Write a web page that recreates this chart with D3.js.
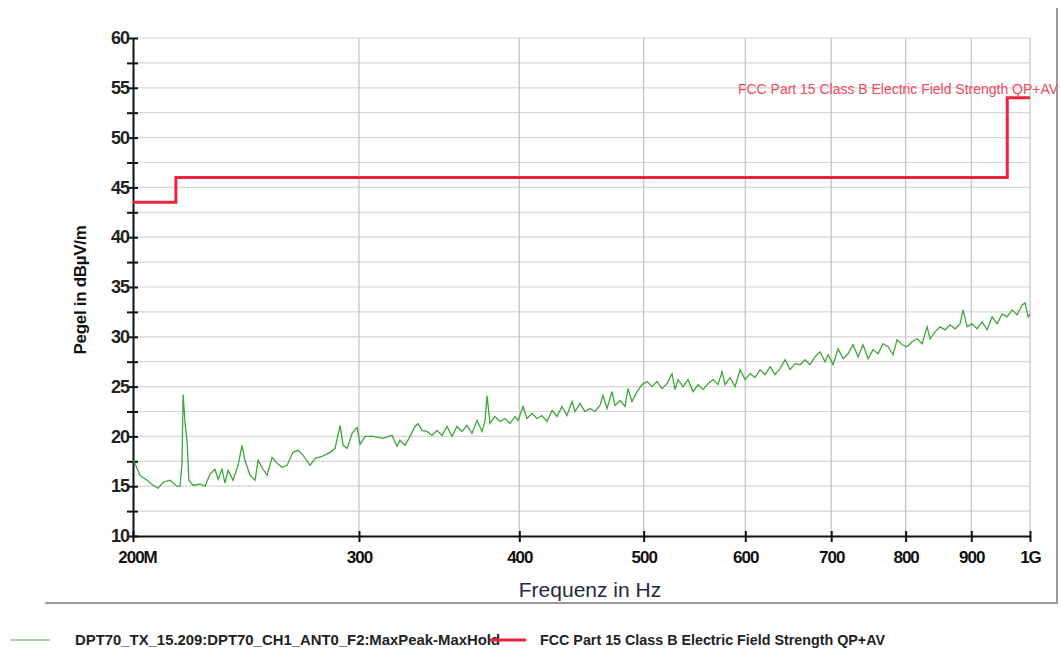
<!doctype html>
<html>
<head>
<meta charset="utf-8">
<title>Pegel in dBµV/m</title>
<style>
body { margin: 0; background: #fff; }
svg { display: block; font-family: "Liberation Sans", Arial, sans-serif; }
</style>
</head>
<body>
<svg width="1061" height="651" id="chart"></svg>
<script src="https://d3js.org/d3.v7.min.js"></script>
<script>
// MaxPeak trace, frequency in MHz and level in dBuV/m
var traceFreq = [200.0, 200.7, 202.5, 205.1, 207.3, 209.2, 211.1, 213.7, 216.4, 217.6,
  218.4, 218.8, 219.6, 220.4, 221.1, 222.7, 225.6, 227.6, 229.6, 231.7,
  233.0, 234.6, 235.9, 237.2, 239.3, 241.5, 243.2, 244.5, 246.7, 249.0,
  250.3, 252.6, 254.4, 256.7, 259.0, 261.3, 263.7, 266.5, 268.9, 271.4,
  274.8, 277.3, 280.8, 284.9, 287.4, 290.0, 291.6, 293.7, 296.3, 299.0,
  300.6, 303.3, 307.6, 313.2, 318.3, 321.2, 322.9, 325.8, 328.8, 331.7,
  333.5, 335.9, 338.9, 342.0, 345.1, 348.2, 351.3, 354.5, 357.7, 360.9,
  364.2, 367.4, 370.8, 374.1, 376.1, 377.5, 379.5, 382.9, 386.4, 389.9,
  393.4, 396.9, 399.1, 402.7, 405.5, 409.2, 412.9, 416.6, 420.4, 424.2,
  428.0, 431.8, 435.7, 439.7, 442.0, 446.0, 450.0, 454.1, 458.2, 462.3,
  464.8, 468.2, 472.4, 474.9, 479.2, 483.5, 486.1, 489.6, 494.1, 498.5,
  503.0, 507.5, 512.1, 516.7, 521.4, 526.1, 528.9, 531.8, 536.6, 541.4,
  546.3, 551.2, 556.2, 561.2, 566.3, 571.4, 575.5, 578.6, 583.8, 589.1,
  594.4, 599.7, 605.2, 610.6, 616.1, 621.7, 627.3, 632.9, 638.6, 644.4,
  650.2, 656.0, 662.0, 667.9, 673.9, 680.0, 686.1, 692.3, 696.1, 702.3,
  708.7, 715.1, 721.5, 728.0, 734.6, 741.2, 747.9, 754.6, 761.4, 768.3,
  775.2, 782.2, 787.8, 794.9, 802.1, 809.3, 816.6, 824.0, 831.4, 835.9,
  843.4, 851.0, 858.7, 866.4, 874.2, 882.1, 886.9, 893.3, 901.3, 909.4,
  917.6, 925.9, 934.2, 942.7, 951.2, 959.7, 968.4, 977.1, 985.9, 991.3,
  996.6, 1000.0];
var traceLevel = [17.6, 17.3, 16.1, 15.6, 15.1, 14.8, 15.4, 15.6, 15.0, 15.0,
  17.3, 24.2, 21.3, 19.4, 15.6, 15.1, 15.2, 15.0, 16.2, 16.7,
  15.7, 16.7, 15.3, 16.6, 15.6, 17.1, 19.1, 17.6, 16.1, 15.6,
  17.6, 16.7, 16.1, 17.9, 17.3, 16.9, 17.1, 18.4, 18.6, 18.1,
  17.1, 17.8, 18.0, 18.4, 18.8, 21.1, 19.1, 18.8, 20.3, 20.9,
  19.2, 20.0, 20.0, 19.8, 20.1, 19.0, 19.6, 19.1, 20.0, 21.0,
  21.3, 20.6, 20.5, 20.1, 20.6, 20.1, 21.0, 20.0, 21.0, 20.5,
  21.1, 20.3, 21.6, 20.5, 21.5, 24.1, 21.3, 22.0, 21.5, 21.8,
  21.3, 22.0, 21.6, 23.0, 21.8, 22.3, 21.8, 22.1, 21.5, 22.6,
  22.0, 23.0, 22.1, 23.5, 22.5, 23.3, 22.5, 22.8, 22.5, 23.1,
  24.1, 22.8, 24.5, 23.1, 23.6, 23.0, 24.8, 23.5, 24.5, 25.2,
  25.5, 25.0, 25.5, 24.8, 25.3, 26.3, 24.7, 25.7, 25.0, 25.7,
  24.5, 25.2, 24.7, 25.3, 25.7, 25.2, 26.5, 25.2, 25.9, 25.0,
  26.7, 25.7, 26.3, 25.9, 26.7, 26.2, 27.0, 26.2, 26.8, 27.7,
  26.7, 27.3, 27.2, 27.7, 27.2, 28.0, 28.5, 27.5, 28.2, 27.2,
  28.8, 27.8, 28.3, 29.2, 28.0, 29.2, 27.8, 28.7, 28.3, 29.3,
  29.0, 28.2, 29.7, 29.2, 29.0, 29.5, 29.8, 29.3, 31.0, 29.8,
  30.5, 31.0, 30.7, 31.2, 30.8, 31.3, 32.7, 31.0, 31.3, 30.8,
  31.5, 30.7, 32.0, 31.3, 32.3, 32.0, 32.7, 32.2, 33.2, 33.4,
  32.0, 32.3];

// FCC Part 15 Class B limit, steps
var limitFreq = [200, 216, 960, 1000];
var limitLevel = [43.5, 46, 54, 54];

var xTicks = [200, 300, 400, 500, 600, 700, 800, 900, 1000];
var xTickLabels = ["200M", "300", "400", "500", "600", "700", "800", "900", "1G"];
var yTicks = [10, 12.5, 15, 17.5, 20, 22.5, 25, 27.5, 30, 32.5, 35, 37.5, 40, 42.5, 45, 47.5, 50, 52.5, 55, 57.5, 60];

var traceName = "DPT70_TX_15.209:DPT70_CH1_ANT0_F2:MaxPeak-MaxHold";
var limitName = "FCC Part 15 Class B Electric Field Strength QP+AV";

var svg = d3.select("#chart");
var plotLeft = 133, plotRight = 1030, plotTop = 38, plotBottom = 536;

var x = d3.scaleLog().domain([200, 1000]).range([plotLeft, plotRight]);
var y = d3.scaleLinear().domain([10, 60]).range([plotBottom, plotTop]);

// grid
svg.append("g").selectAll("line").data(yTicks.slice(1)).enter().append("line")
  .attr("x1", plotLeft).attr("x2", plotRight)
  .attr("y1", function(d) { return y(d); }).attr("y2", function(d) { return y(d); })
  .attr("stroke", "#d6d6d6").attr("stroke-width", 1.2);
svg.append("g").selectAll("line").data(xTicks.slice(1)).enter().append("line")
  .attr("x1", function(d) { return x(d); }).attr("x2", function(d) { return x(d); })
  .attr("y1", plotTop).attr("y2", plotBottom)
  .attr("stroke", "#c2c2c2").attr("stroke-width", 1.2);

// frame of the scan
svg.append("line").attr("x1", 1057).attr("x2", 1057).attr("y1", 8).attr("y2", 603)
  .attr("stroke", "#9a9a9a").attr("stroke-width", 2);
svg.append("line").attr("x1", 45).attr("x2", 1058).attr("y1", 603).attr("y2", 603)
  .attr("stroke", "#9a9a9a").attr("stroke-width", 2);

// axes
var yAxis = svg.append("g").attr("transform", "translate(" + plotLeft + ",0)")
  .call(d3.axisLeft(y).tickValues(yTicks).tickSize(0)
    .tickFormat(function(d) { return d % 5 === 0 ? d : ""; }));
yAxis.select(".domain").attr("stroke", "#111").attr("stroke-width", 2);
yAxis.selectAll(".tick line").attr("x1", -6).attr("x2", 5).attr("stroke", "#111").attr("stroke-width", 2);
yAxis.selectAll(".tick text").attr("x", -4).attr("fill", "#222")
  .style("font-size", "18px").style("font-weight", "bold").style("letter-spacing", "-1px");

var xAxis = svg.append("g").attr("transform", "translate(0," + plotBottom + ")")
  .call(d3.axisBottom(x).tickValues(xTicks).tickSize(0)
    .tickFormat(function(d, i) { return xTickLabels[i]; }));
xAxis.select(".domain").attr("stroke", "#111").attr("stroke-width", 2);
xAxis.selectAll(".tick line").attr("y1", -5).attr("y2", 6).attr("stroke", "#111").attr("stroke-width", 2);
xAxis.selectAll(".tick text").attr("y", 27).attr("dy", 0).attr("fill", "#111")
  .style("font-size", "17px").style("font-weight", "bold").style("letter-spacing", "-1px");
xAxis.select(".tick text").attr("dx", 4);

// axis titles
svg.append("text").attr("transform", "translate(86,290) rotate(-90)")
  .attr("text-anchor", "middle").attr("fill", "#111")
  .style("font-size", "17px").style("font-weight", "bold").style("letter-spacing", "-0.3px")
  .text("Pegel in dBµV/m");
svg.append("text").attr("x", 590).attr("y", 597).attr("text-anchor", "middle")
  .attr("fill", "#262640").style("font-size", "21px")
  .text("Frequenz in Hz");

// limit line
var limitPts = limitFreq.map(function(f, i) { return [f, limitLevel[i]]; });
svg.append("path").datum(limitPts)
  .attr("d", d3.line().x(function(d) { return x(d[0]); }).y(function(d) { return y(d[1]); }).curve(d3.curveStepAfter))
  .attr("fill", "none").attr("stroke", "#e8253d").attr("stroke-width", 3);

// trace
var tracePts = traceFreq.map(function(f, i) { return [f, traceLevel[i]]; });
svg.append("path").datum(tracePts)
  .attr("d", d3.line().x(function(d) { return x(d[0]); }).y(function(d) { return y(d[1]); }))
  .attr("fill", "none").attr("stroke", "#3fa63a").attr("stroke-width", 1.3);

// limit label
svg.append("text").attr("x", 738).attr("y", 94)
  .attr("fill", "#ee4a5c").style("font-size", "14px")
  .attr("textLength", 320).attr("lengthAdjust", "spacingAndGlyphs")
  .text(limitName);

// legend
svg.append("line").attr("x1", 10).attr("x2", 50).attr("y1", 640).attr("y2", 640)
  .attr("stroke", "#8cc88c").attr("stroke-width", 1.5);
svg.append("text").attr("x", 75).attr("y", 645).attr("fill", "#222")
  .style("font-size", "14px").style("font-weight", "bold")
  .attr("textLength", 425).attr("lengthAdjust", "spacingAndGlyphs")
  .text(traceName);
svg.append("line").attr("x1", 490).attr("x2", 526).attr("y1", 640).attr("y2", 640)
  .attr("stroke", "#e8253d").attr("stroke-width", 3);
svg.append("text").attr("x", 540).attr("y", 645).attr("fill", "#222")
  .style("font-size", "14px").style("font-weight", "bold")
  .attr("textLength", 345).attr("lengthAdjust", "spacingAndGlyphs")
  .text(limitName);
</script>
</body>
</html>
